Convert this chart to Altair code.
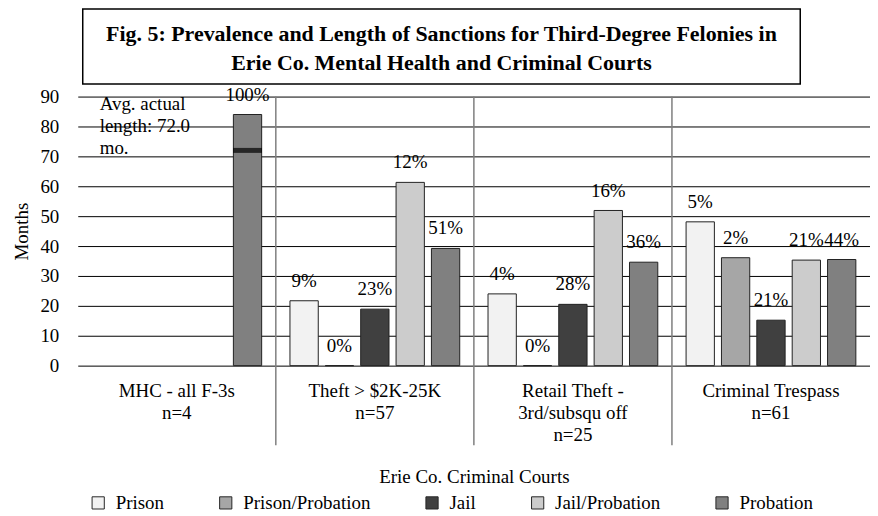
import altair as alt
import pandas as pd

FONT = "'Liberation Serif', 'Times New Roman', Times, serif"

categories = [
    "MHC - all F-3s|n=4",
    "Theft > $2K-25K|n=57",
    "Retail Theft -|3rd/subsqu off|n=25",
    "Criminal Trespass|n=61",
]
types = ["Prison", "Prison/Probation", "Jail", "Jail/Probation", "Probation"]
colors = ["#f2f2f2", "#a6a6a6", "#404040", "#cccccc", "#808080"]

months_mhc = [None, None, None, None, 84.0]
months_theft = [21.7, 0.0, 18.9, 61.3, 39.2]
months_retail = [24.0, 0.0, 20.5, 51.9, 34.6]
months_trespass = [48.1, 36.1, 15.2, 35.3, 35.5]

pct_mhc = [None, None, None, None, "100%"]
pct_theft = ["9%", "0%", "23%", "12%", "51%"]
pct_retail = ["4%", "0%", "28%", "16%", "36%"]
pct_trespass = ["5%", "2%", "21%", "21%", "44%"]

avg_actual_mhc = [72.0]
avg_note = "Avg. actual|length: 72.0|mo."
title_text = ("Fig. 5: Prevalence and Length of Sanctions for Third-Degree Felonies in|"
              "Erie Co. Mental Health and Criminal Courts")
x_title = "Erie Co. Criminal Courts"
y_title = "Months"
y_ticks = [0, 10, 20, 30, 40, 50, 60, 70, 80, 90]

rows = []
for cat, ms, ps in zip(categories,
                       [months_mhc, months_theft, months_retail, months_trespass],
                       [pct_mhc, pct_theft, pct_retail, pct_trespass]):
    for t, m, p in zip(types, ms, ps):
        if m is None:
            continue
        rows.append({"cat": cat, "type": t, "months": m, "pct": p})
df = pd.DataFrame(rows)

avg_df = pd.DataFrame({"cat": [categories[0]], "type": ["Probation"], "months": avg_actual_mhc})
sep_df = pd.DataFrame({"cat": categories[1:]})
note_df = pd.DataFrame({"t": [avg_note]})
title_df = pd.DataFrame({"t": [title_text]})

x_scale = alt.Scale(domain=categories, paddingInner=0, paddingOuter=0)
x_axis = alt.Axis(
    title=x_title, labelExpr="split(datum.label, '|')", labelAngle=0,
    ticks=False, domain=False, grid=False, labelPadding=16, titlePadding=23,
    labelLineHeight=22, labelFontSize=19, titleFontSize=19, titleFontWeight="normal",
    labelFont=FONT, titleFont=FONT, labelColor="black", titleColor="black",
    labelLimit=0,
)
x_enc = alt.X("cat:N", sort=categories, scale=x_scale, axis=x_axis)
xoff = alt.XOffset("type:N", sort=types,
                   scale=alt.Scale(domain=types, paddingInner=0.2, paddingOuter=0.4))
y_enc = alt.Y("months:Q", scale=alt.Scale(domain=[0, 90], nice=False),
              axis=alt.Axis(title=y_title, values=y_ticks, grid=True, gridColor="black",
                            gridWidth=1, domain=False, ticks=False, labelPadding=19,
                            labelFontSize=19, titleFontSize=19, titleFontWeight="normal",
                            labelFont=FONT, titleFont=FONT, labelColor="black",
                            titleColor="black", titlePadding=8, labelOverlap=False))
color = alt.Color("type:N", sort=types, scale=alt.Scale(domain=types, range=colors),
                  legend=alt.Legend(title=None, orient="none", legendX=11, legendY=398,
                                    direction="horizontal", symbolType="square",
                                    symbolSize=150, symbolStrokeColor="#262626",
                                    symbolStrokeWidth=1, labelFontSize=19, labelFont=FONT,
                                    labelColor="black", columnPadding=52, labelOffset=8))

bars = alt.Chart(df).mark_bar(stroke="#222222", strokeWidth=1).encode(
    x=x_enc, xOffset=xoff, y=y_enc, color=color)

labels = alt.Chart(df).mark_text(font=FONT, fontSize=19, baseline="middle",
                                 dy=-20, color="black").encode(
    x=x_enc, xOffset=xoff, y=y_enc, text="pct:N")

avg_tick = alt.Chart(avg_df).mark_tick(color="black", thickness=5, size=29).encode(
    x=x_enc, xOffset=xoff, y=y_enc)

seps = alt.Chart(sep_df).mark_rule(color="#7f7f7f", strokeWidth=1.5).encode(
    x=alt.X("cat:N", sort=categories, scale=x_scale, axis=x_axis, bandPosition=0),
    y=alt.value(0), y2=alt.value(350))

note = alt.Chart(note_df).mark_text(font=FONT, fontSize=19, align="left",
                                    baseline="middle", lineBreak="|", lineHeight=22.5,
                                    color="black").encode(
    x=alt.value(22), y=alt.value(7), text="t:N")

box = alt.Chart(title_df).mark_rect(fill="white", stroke="black", strokeWidth=1.5).encode(
    x=alt.value(5), x2=alt.value(725), y=alt.value(-88), y2=alt.value(-12.5))

title = alt.Chart(title_df).mark_text(font=FONT, fontSize=22, fontWeight="bold",
                                      align="center", baseline="middle", lineBreak="|",
                                      lineHeight=29, color="black").encode(
    x=alt.value(365), y=alt.value(-63), text="t:N")

chart = alt.layer(seps, bars, avg_tick, labels, note, box, title).properties(
    width=795, height=270,
    autosize=alt.AutoSizeParams(type="none"),
    padding={"left": 70, "top": 88, "right": 0, "bottom": 150},
).configure_view(stroke=None)

chart.save("out.html", embed_options={"renderer": "svg", "actions": False})
